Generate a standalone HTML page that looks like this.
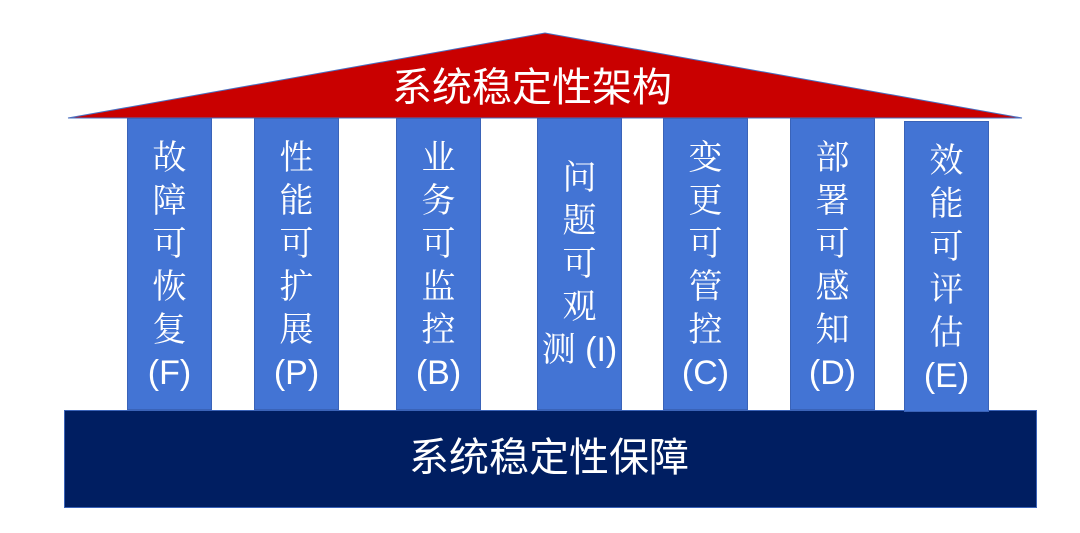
<!DOCTYPE html>
<html><head><meta charset="utf-8"><style>
body{margin:0;width:1080px;height:533px;background:#fff;position:relative;overflow:hidden}
.p{position:absolute;top:118px;height:292px;width:85px;background:#4374D4;border:1px solid #3a63b8;box-sizing:border-box;color:#fff;font-family:"Liberation Sans","Noto Serif CJK SC",serif;font-size:34px;line-height:43px;text-align:center}
.t{position:absolute;color:#fff;font-family:"Liberation Sans","Noto Sans CJK SC",sans-serif;font-size:40px;line-height:48px;white-space:nowrap}
</style></head><body>
<svg width="1080" height="533" style="position:absolute;left:0;top:0">
<polygon points="68,118 545,33 1022,118" fill="#C90000" stroke="#4a6fc0" stroke-width="1"/>
<rect x="64.5" y="410.5" width="972" height="97" fill="#001E61" stroke="#3a63b8"/>
</svg>
<div class="t" style="left:0;width:1064px;text-align:center;top:64px">系统稳定性架构</div>
<div class="p" style="left:127px;padding-top:18px">故<br>障<br>可<br>恢<br>复<br>(F)</div>
<div class="p" style="left:254px;padding-top:18px">性<br>能<br>可<br>扩<br>展<br>(P)</div>
<div class="p" style="left:396px;padding-top:18px">业<br>务<br>可<br>监<br>控<br>(B)</div>
<div class="p" style="left:537px;padding-top:38px">问<br>题<br>可<br>观<br>测 (I)</div>
<div class="p" style="left:663px;padding-top:18px">变<br>更<br>可<br>管<br>控<br>(C)</div>
<div class="p" style="left:790px;padding-top:18px">部<br>署<br>可<br>感<br>知<br>(D)</div>
<div class="p" style="left:904px;top:121px;height:291px;padding-top:18px">效<br>能<br>可<br>评<br>估<br>(E)</div>
<div class="t" style="left:0;width:1098px;text-align:center;top:434px">系统稳定性保障</div>
</body></html>
